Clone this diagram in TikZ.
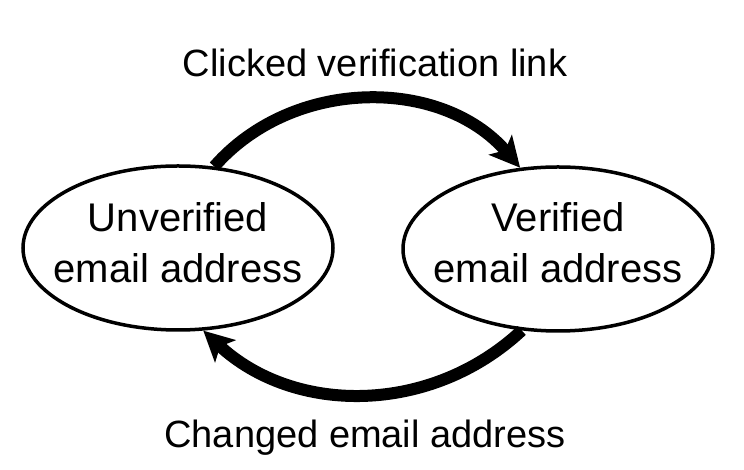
\documentclass[tikz,border=0pt]{standalone}
\usepackage{fontspec}
\setmainfont{Liberation Sans}
\usetikzlibrary{shapes.geometric,arrows.meta}
\begin{document}
\begin{tikzpicture}[x=1pt,y=1pt,
  state/.style={draw,ellipse,line width=3.5pt,minimum width=310pt,minimum height=164pt,inner sep=0pt},
  stext/.style={align=center,inner sep=0pt,font=\fontsize{40}{51}\selectfont},
  trans/.style={line width=12pt,-{Stealth[length=30pt,width=30pt,inset=7pt]}},
  lbl/.style={anchor=base,font=\fontsize{38}{46}\selectfont}]
\useasboundingbox (0,0) rectangle (744,470);
\node[state] (U) at (178,222) {};
\node[state] (V) at (558,221) {};
\node[stext] (Ut) at (178,227) {Unverified\\email address};
\node[stext] (Vt) at (558,227) {Verified\\email address};
\draw[trans] (U.66) to[bend left=49] (V.115);
\draw[trans] (V.246) to[bend left=43] (U.287);
\node[lbl] (top) at (375,393) {Clicked verification link};
\node[lbl] (bot) at (365,22) {Changed email address};
\end{tikzpicture}
\end{document}
